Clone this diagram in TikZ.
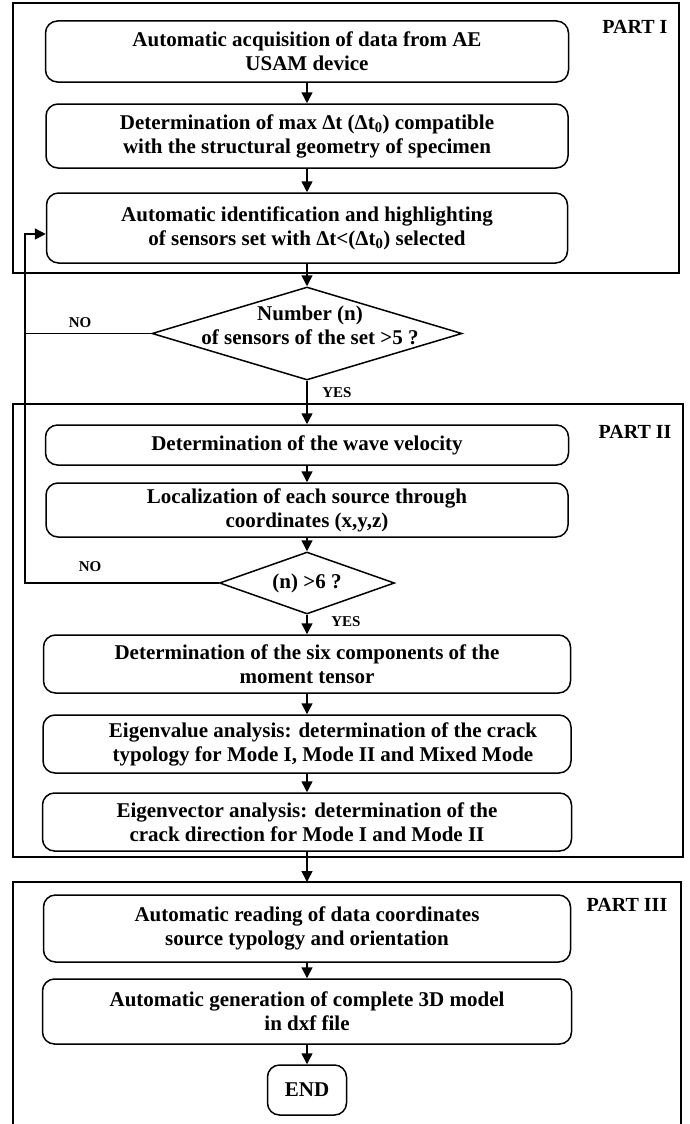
\documentclass[tikz,border=0pt]{standalone}
\usepackage{fontspec}
\setmainfont{Liberation Serif}
\usetikzlibrary{shapes.geometric,arrows.meta}
\begin{document}
\begin{tikzpicture}[x=1pt,y=-1pt,
  box/.style={draw, line width=1.5pt, rounded corners=12pt, align=center, inner sep=0pt,
    font=\fontsize{21}{24}\selectfont\bfseries},
  frame/.style={draw, line width=2pt},
  arr/.style={line width=1.5pt, -{Triangle[length=11pt,width=11pt]}},
  plain/.style={line width=1.5pt},
  lab/.style={font=\fontsize{15}{17}\selectfont\bfseries, inner sep=0pt},
  part/.style={font=\fontsize{20}{22}\selectfont\bfseries, inner sep=0pt},
  dia/.style={draw, diamond, line width=1.5pt, inner sep=0pt},
  diatext/.style={align=center, inner sep=0pt, font=\fontsize{21}{24}\selectfont\bfseries},
]
\useasboundingbox (0,0) rectangle (690,1124);

% frames
\draw[frame] (13,3) rectangle (679,273);
\draw[frame] (13,404) rectangle (683,857);
\draw[frame] (13,1140) |- (681,882) -- (681,1140);

\node[part] (p1) at (635,27) {PART I};
\node[part] (p2) at (635,432) {PART II};
\node[part] (p3) at (627,905) {PART III};

% part I
\node[box, minimum width=523pt, minimum height=61pt] (b1) at (307,51.5)
  {Automatic acquisition of data from AE\\USAM device};
\node[box, minimum width=522pt, minimum height=64pt] (b2) at (307,136)
  {Determination of max Δt (Δt\textsubscript{0}) compatible\\with the structural geometry of specimen};
\node[box, minimum width=521pt, minimum height=70pt] (b3) at (307,228)
  {Automatic identification and highlighting\\of sensors set with Δt<(Δt\textsubscript{0}) selected};

% diamond 1
\node[dia, minimum width=310pt, minimum height=93pt] (d1) at (307,333.5) {};
\node[diatext] (d1t) at (310,325) {Number (n)\\of sensors of the set >5 ?};

% part II
\node[box, minimum width=523pt, minimum height=40pt] (b4) at (307,445)
  {Determination of the wave velocity};
\node[box, minimum width=522pt, minimum height=54pt] (b5) at (307,510)
  {Localization of each source through\\coordinates (x,y,z)};
\node[dia, minimum width=175pt, minimum height=62pt] (d2) at (307,583) {};
\node[diatext] (d2t) at (307,583) {(n) >6 ?};
\node[box, minimum width=527pt, minimum height=58pt] (b6) at (307,664)
  {Determination of the six components of the\\moment tensor};
\node[box, minimum width=528pt, minimum height=58pt] (b7) at (307,744)
  {\hspace*{32pt}Eigenvalue analysis: determination of the crack\\\hspace*{32pt}typology for Mode I, Mode II and Mixed Mode};
\node[box, minimum width=529pt, minimum height=58pt] (b8) at (307,822)
  {Eigenvector analysis: determination of the\\crack direction for Mode I and Mode II};

% part III
\coordinate (p3top) at (307,882);
\node[box, minimum width=527pt, minimum height=67pt] (b9) at (307,928.5)
  {Automatic reading of data coordinates\\source typology and orientation};
\node[box, minimum width=529pt, minimum height=65pt] (b10) at (307,1011.5)
  {Automatic generation of complete 3D model\\in dxf file};
\node[box, minimum width=79pt, minimum height=50pt] (end) at (307,1090) {END};

% labels
\node[lab] (no1) at (80,323) {NO};
\node[lab] (no2) at (90,567) {NO};
\node[lab] (yes1) at (337,393) {YES};
\node[lab] (yes2) at (346,622) {YES};

% connectors
\draw[arr] (b1) -- (b2);
\draw[arr] (b2) -- (b3);
\draw[arr] (b3) -- (d1);
\draw[arr] (d1) -- (b4);
\draw[arr] (b4) -- (b5);
\draw[arr] (b5) -- (d2);
\draw[arr] (d2) -- (b6);
\draw[arr] (b6) -- (b7);
\draw[arr] (b7) -- (b8);
\draw[arr] (b8) -- (p3top);
\draw[arr] (b9) -- (b10);
\draw[arr] (b10) -- (end);

% loop back
\coordinate (loop) at (25,583);
\coordinate (b3in) at ([yshift=-6pt]b3.west);
\draw[arr] (d2.west) -- (loop) |- (b3in);
\draw[plain] (d1.west) -- (d1.west -| loop);
\end{tikzpicture}
\end{document}
